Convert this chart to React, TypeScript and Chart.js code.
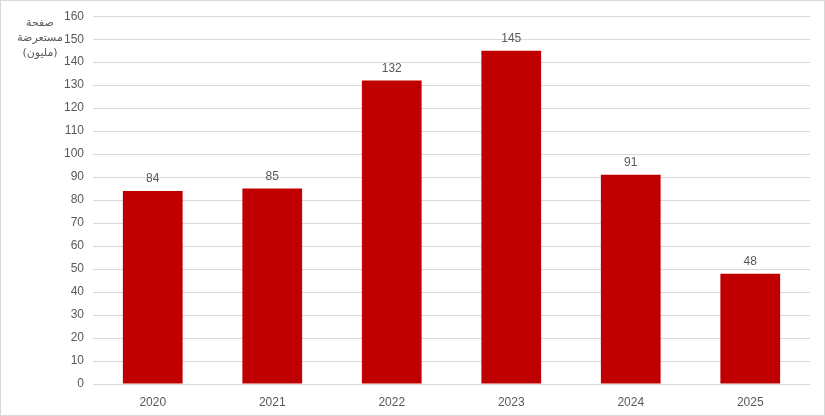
import React, { useEffect, useRef } from "react";
import { Chart, registerables } from "chart.js";

Chart.register(...registerables);

const categories = ["2020", "2021", "2022", "2023", "2024", "2025"];
const pageViews = [84, 85, 132, 145, 91, 48];
const yTitleLines = ["صفحة", "مستعرضة", "(مليون)"];
const yMin = 0;
const yMax = 160;
const yStep = 10;

const FONT = "'Liberation Sans Narrow', 'Liberation Sans', sans-serif";
const TEXT = "#595959";

export default function App() {
  const ref = useRef<HTMLCanvasElement | null>(null);

  useEffect(() => {
    document.body.style.margin = "0";
    const canvas = ref.current;
    if (!canvas) return;

    const bgPlugin = {
      id: "bgBorder",
      beforeDraw(chart: any) {
        const { ctx, width, height } = chart;
        ctx.save();
        ctx.fillStyle = "#ffffff";
        ctx.fillRect(0, 0, width, height);
        ctx.strokeStyle = "#D9D9D9";
        ctx.lineWidth = 1;
        ctx.strokeRect(0.5, 0.5, width - 1, height - 1);
        ctx.restore();
      },
    };

    const labelPlugin = {
      id: "barLabels",
      afterDatasetsDraw(chart: any) {
        const { ctx } = chart;
        const meta = chart.getDatasetMeta(0);
        ctx.save();
        ctx.fillStyle = TEXT;
        ctx.font = `12px ${FONT}`;
        ctx.textAlign = "center";
        ctx.textBaseline = "bottom";
        meta.data.forEach((bar: any, i: number) => {
          ctx.fillText(String(pageViews[i]), bar.x, bar.y - 6);
        });
        // y-axis title (Arabic, three lines)
        ctx.font = "11px 'DejaVu Sans', sans-serif";
        ctx.textBaseline = "middle";
        const ys = [23, 38, 53];
        yTitleLines.forEach((line, i) => {
          ctx.fillText(line, 40, ys[i]);
        });
        ctx.restore();
      },
    };

    const chart = new Chart(canvas, {
      type: "bar",
      data: {
        labels: categories,
        datasets: [
          {
            data: pageViews,
            backgroundColor: "#C00000",
            borderWidth: 0,
            categoryPercentage: 1,
            barPercentage: 0.5,
          },
        ],
      },
      options: {
        animation: false,
        responsive: false,
        maintainAspectRatio: false,
        layout: { padding: { left: 0, right: 15, top: 16, bottom: 0 } },
        plugins: {
          legend: { display: false },
          tooltip: { enabled: false },
        },
        scales: {
          x: {
            grid: { display: false },
            border: { display: false },
            ticks: {
              color: TEXT,
              font: { family: FONT, size: 12 },
              padding: 3,
              maxRotation: 0,
            },
            afterFit(scale: any) {
              scale.height = 32;
            },
          },
          y: {
            min: yMin,
            max: yMax,
            grid: { color: "#D9D9D9", lineWidth: 1, drawTicks: false },
            border: { display: false },
            ticks: {
              stepSize: yStep,
              color: TEXT,
              font: { family: FONT, size: 12 },
              padding: 9,
            },
            afterFit(scale: any) {
              scale.width = 93;
            },
          },
        },
      },
      plugins: [bgPlugin, labelPlugin],
    });

    return () => chart.destroy();
  }, []);

  return (
    <div style={{ width: 825, height: 416 }}>
      <canvas ref={ref} width={825} height={416} style={{ display: "block" }} />
    </div>
  );
}
